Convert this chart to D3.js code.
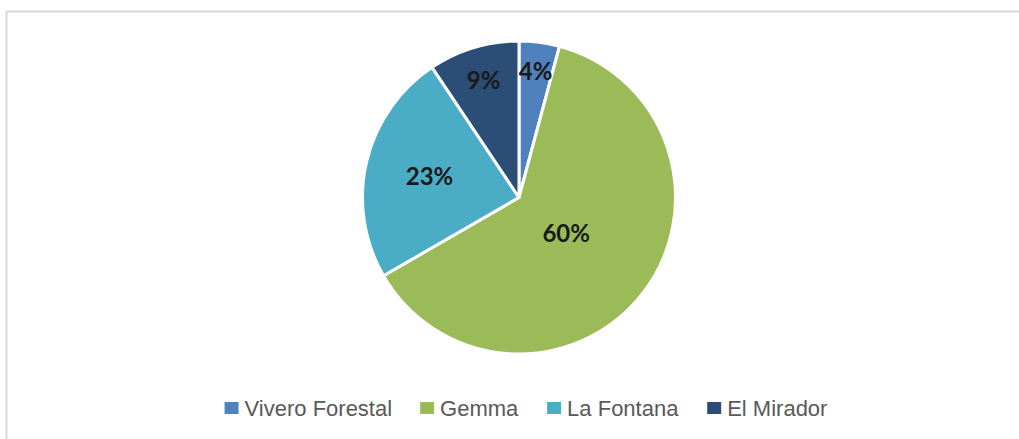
<!DOCTYPE html>
<html>
<head>
<meta charset="utf-8">
<script src="https://cdn.jsdelivr.net/npm/d3@7"></script>
<style>
  html, body { margin: 0; padding: 0; background: #ffffff; }
  svg { display: block; }
</style>
</head>
<body>
<svg id="chart" width="1019" height="439"></svg>
<script>
// ---- data ----
const categories = ["Vivero Forestal", "Gemma", "La Fontana", "El Mirador"];
const values = [4, 60, 23, 9];
const labels = ["4%", "60%", "23%", "9%"];
const colors = ["#4f81bd", "#9bbb59", "#4bacc6", "#2c4d75"];
// label distance from centre, as fraction of radius (layout)
const labelRadiusFrac = [0.815, 0.38, 0.587, 0.78];

const svg = d3.select("#chart");
const W = 1019, H = 439;

// frame border
svg.append("line").attr("x1", 6).attr("x2", W).attr("y1", 11.5).attr("y2", 11.5)
  .attr("stroke", "#d9d9d9").attr("stroke-width", 2);
svg.append("line").attr("x1", 6.5).attr("x2", 6.5).attr("y1", 11).attr("y2", H)
  .attr("stroke", "#d9d9d9").attr("stroke-width", 2);

const cx = 519, cy = 197.5, R = 156.5;
const g = svg.append("g").attr("transform", `translate(${cx},${cy})`);

const data = categories.map((c, i) => ({ name: c, value: values[i], label: labels[i], color: colors[i], lr: labelRadiusFrac[i] }));
const pie = d3.pie().value(d => d.value).sort(null);
const arcs = pie(data);
const arc = d3.arc().innerRadius(0).outerRadius(R);

g.selectAll("path.slice").data(arcs).join("path")
  .attr("class", "slice")
  .attr("d", arc)
  .attr("fill", d => d.data.color)
  .attr("stroke", "#ffffff")
  .attr("stroke-width", 3)
  .attr("stroke-linejoin", "round");

g.selectAll("text.lbl").data(arcs).join("text")
  .attr("class", "lbl")
  .attr("transform", d => {
    const r = R * d.data.lr;
    const a = d3.arc().innerRadius(r).outerRadius(r);
    const [x, y] = a.centroid(d);
    return `translate(${x},${y})`;
  })
  .attr("text-anchor", "middle")
  .attr("dy", "0.36em")
  .attr("font-family", "Lato, 'Open Sans', sans-serif")
  .attr("font-weight", "bold")
  .attr("font-size", 24)
  .attr("fill", "#1a1a1a")
  .text(d => d.data.label);

// legend
const legend = svg.append("g").attr("class", "legend");
const fontSize = 22;
const items = legend.selectAll("g.item").data(data).join("g").attr("class", "item");
items.append("rect").attr("width", 14).attr("height", 12)
  .attr("y", -14).attr("fill", d => d.color);
items.append("text").attr("x", 20).attr("y", 0)
  .attr("font-family", "'Liberation Sans', Arial, sans-serif")
  .attr("font-size", fontSize)
  .attr("fill", "#595959")
  .text(d => d.name);

// layout legend horizontally, centred
const gap = 28;
let xPos = 0;
const positions = [];
items.each(function() {
  const w = this.getBBox().width;
  positions.push(xPos);
  xPos += w + gap;
});
const totalW = xPos - gap;
const startX = 526 - totalW / 2;
items.attr("transform", (d, i) => `translate(${startX + positions[i]},416)`);
</script>
</body>
</html>
